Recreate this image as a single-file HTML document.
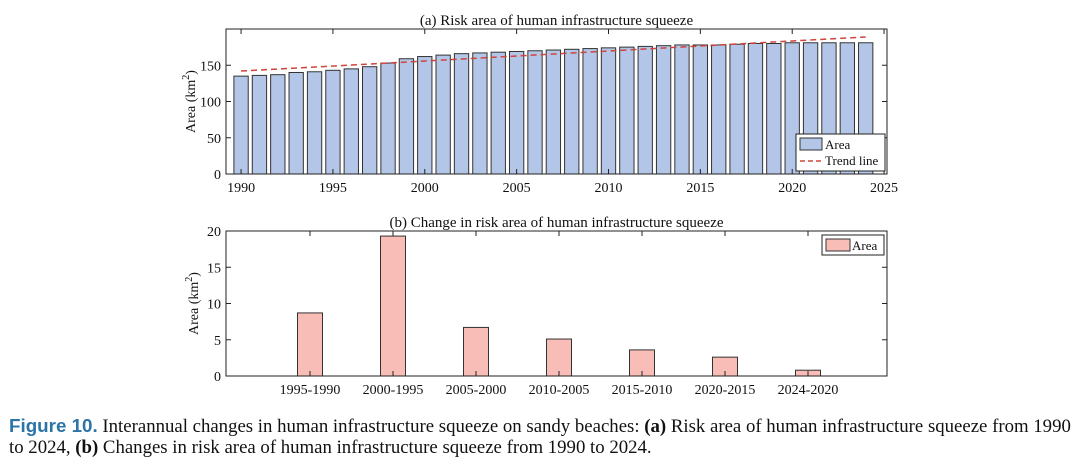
<!DOCTYPE html>
<html><head><meta charset="utf-8"><style>
body{margin:0;background:#fff;width:1080px;height:466px;overflow:hidden;position:relative;font-family:"Liberation Serif",serif}
.cap{position:absolute;left:9px;font-size:18.8px;white-space:nowrap;color:#111}
.fig{font-family:"Liberation Sans",sans-serif;font-weight:bold;color:#2a74a8}
svg text{font-family:"Liberation Serif",serif;fill:#111}
</style></head><body>
<svg id="chart" width="1080" height="410" style="position:absolute;left:0;top:0"></svg>
<div class="cap" style="top:415px"><span class="fig">Figure 10.</span> Interannual changes in human infrastructure squeeze on sandy beaches: <b>(a)</b> Risk area of human infrastructure squeeze from 1990</div>
<div class="cap" style="top:437px">to 2024, <b>(b)</b> Changes in risk area of human infrastructure squeeze from 1990 to 2024.</div>
<script>
const years=[1990,1991,1992,1993,1994,1995,1996,1997,1998,1999,2000,2001,2002,2003,2004,2005,2006,2007,2008,2009,2010,2011,2012,2013,2014,2015,2016,2017,2018,2019,2020,2021,2022,2023,2024];
const areas=[135,136,137,140,141,143,145,148,153,159,162,164,166,167,168,169,170,171,172,173,174,175,176,177,178,178,178,179,180,180,181,181,181,181,181];
const trendStart=142, trendEnd=189;
const xTicksA=[1990,1995,2000,2005,2010,2015,2020,2025];
const yTicksA=[0,50,100,150];
const periods=["1995-1990","2000-1995","2005-2000","2010-2005","2015-2010","2020-2015","2024-2020"];
const changes=[8.7,19.3,6.7,5.1,3.6,2.6,0.8];
const yTicksB=[0,5,10,15,20];

const NS="http://www.w3.org/2000/svg";
const svg=document.getElementById('chart');
function mk(tag,attrs,parent){const e=document.createElementNS(NS,tag);for(const k in attrs)e.setAttribute(k,attrs[k]);(parent||svg).appendChild(e);return e;}
function txt(s,attrs){const t=mk('text',attrs);t.textContent=s;return t;}

// Chart A
const A={l:226,r:887,t:29,b:174,x0:1989.18,x1:2025.16,y0:0,y1:200};
const xa=v=>A.l+(v-A.x0)/(A.x1-A.x0)*(A.r-A.l);
const ya=v=>A.b-(v-A.y0)/(A.y1-A.y0)*(A.b-A.t);
const gA=mk('g',{});


years.forEach((y,i)=>{
  const w=0.78*(xa(1)-xa(0));
  const r=mk('rect',{x:xa(y)-w/2,y:ya(areas[i]),width:w,height:ya(0)-ya(areas[i]),fill:'#b3c6e7',stroke:'#333','stroke-width':1},gA);
  
  
});
const tl=mk('line',{x1:xa(years[0]),y1:ya(trendStart),x2:xa(years[years.length-1]),y2:ya(trendEnd),stroke:'#d0443c','stroke-width':1.5,'stroke-dasharray':'6,4'},gA);


mk('rect',{x:A.l,y:A.t,width:A.r-A.l,height:A.b-A.t,fill:'none',stroke:'#222','stroke-width':1});
xTicksA.forEach(v=>{
  mk('line',{x1:xa(v),y1:A.b,x2:xa(v),y2:A.b-5,stroke:'#222'});
  mk('line',{x1:xa(v),y1:A.t,x2:xa(v),y2:A.t+5,stroke:'#222'});
  const t=txt(v,{x:xa(v),y:A.b+18,'font-size':14,'text-anchor':'middle'});
  
  
});
yTicksA.forEach(v=>{
  mk('line',{x1:A.l,y1:ya(v),x2:A.l+5,y2:ya(v),stroke:'#222'});
  mk('line',{x1:A.r,y1:ya(v),x2:A.r-5,y2:ya(v),stroke:'#222'});
  const t=txt(v,{x:A.l-5,y:ya(v)+5,'font-size':14,'text-anchor':'end'});
  
  
});
let t=txt('(a) Risk area of human infrastructure squeeze',{x:(A.l+A.r)/2,y:A.t-4,'font-size':15,'text-anchor':'middle'});


t=mk('text',{x:0,y:0,'font-size':14,'text-anchor':'middle',transform:`translate(195,${(A.t+A.b)/2}) rotate(-90)`});
t.innerHTML='Area (km<tspan dy="-6" font-size="10">2</tspan><tspan dy="6">)</tspan>';


const lgA=mk('g',{});


mk('rect',{x:796,y:134,width:89,height:37,fill:'#fff',stroke:'#222'},lgA);
mk('rect',{x:800,y:138,width:22,height:12,fill:'#b3c6e7',stroke:'#333'},lgA);
txt('Area',{x:825,y:149,'font-size':13});
mk('line',{x1:800,y1:161,x2:822,y2:161,stroke:'#d0443c','stroke-width':1.5,'stroke-dasharray':'5,3'},lgA);
txt('Trend line',{x:825,y:165,'font-size':13});

// Chart B
const B={l:226,r:887,t:231,b:376,y0:0,y1:20};
const xbPos=i=>310+i*83;
const yb=v=>B.b-(v-B.y0)/(B.y1-B.y0)*(B.b-B.t);
const gB=mk('g',{});


periods.forEach((p,i)=>{
  const w=25;
  const r=mk('rect',{x:xbPos(i)-w/2,y:yb(changes[i]),width:w,height:yb(0)-yb(changes[i]),fill:'#f8bdb7',stroke:'#333','stroke-width':1},gB);
  
  
  mk('line',{x1:xbPos(i),y1:B.b,x2:xbPos(i),y2:B.b-5,stroke:'#222'});
  mk('line',{x1:xbPos(i),y1:B.t,x2:xbPos(i),y2:B.t+5,stroke:'#222'});
  const lt=txt(p,{x:xbPos(i),y:B.b+18,'font-size':14,'text-anchor':'middle'});
  
  
});
mk('rect',{x:B.l,y:B.t,width:B.r-B.l,height:B.b-B.t,fill:'none',stroke:'#222','stroke-width':1});
yTicksB.forEach(v=>{
  mk('line',{x1:B.l,y1:yb(v),x2:B.l+5,y2:yb(v),stroke:'#222'});
  mk('line',{x1:B.r,y1:yb(v),x2:B.r-5,y2:yb(v),stroke:'#222'});
  const tt=txt(v,{x:B.l-5,y:yb(v)+5,'font-size':14,'text-anchor':'end'});
  
  
});
t=txt('(b) Change in risk area of human infrastructure squeeze',{x:(B.l+B.r)/2,y:B.t-4,'font-size':15,'text-anchor':'middle'});


t=mk('text',{x:0,y:0,'font-size':14,'text-anchor':'middle',transform:`translate(198,${(B.t+B.b)/2}) rotate(-90)`});
t.innerHTML='Area (km<tspan dy="-6" font-size="10">2</tspan><tspan dy="6">)</tspan>';


const lgB=mk('g',{});


mk('rect',{x:822,y:235,width:62,height:20,fill:'#fff',stroke:'#222'},lgB);
mk('rect',{x:826,y:239,width:24,height:12,fill:'#f8bdb7',stroke:'#333'},lgB);
txt('Area',{x:852,y:250,'font-size':13});
</script>
</body></html>
